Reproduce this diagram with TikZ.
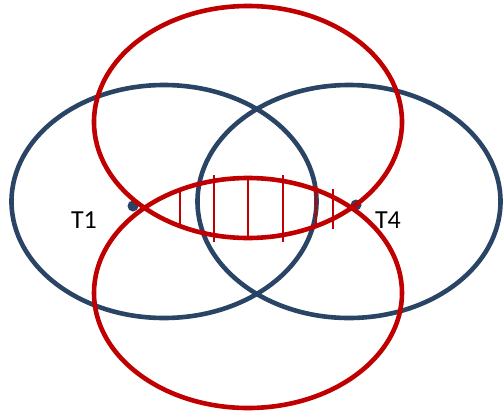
\documentclass[tikz,border=0pt]{standalone}
\usepackage{fontspec}
\setmainfont{Carlito}
\definecolor{navy}{HTML}{2A4466}
\definecolor{crim}{HTML}{C00000}
\begin{document}
\begin{tikzpicture}[x=1pt,y=-1pt,
  blueell/.style={draw=navy,line width=4.6pt},
  redell/.style={draw=crim,line width=4.6pt},
  hatch/.style={draw=crim,line width=1.5pt},
  lbl/.style={font=\fontsize{26}{30}\selectfont,text=black,inner sep=0pt}]
\useasboundingbox (0,0) rectangle (504,416);
% blue ellipses
\draw[blueell] (164,201.5) ellipse [x radius=152.5, y radius=116.5];
\draw[blueell] (349,201.5) ellipse [x radius=151.5, y radius=116.5];
% blue dots
\fill[navy] (133,206) circle (5.5);
\fill[navy] (356,205) circle (5.5);
% red ellipses
\draw[redell] (248,122) ellipse [x radius=154, y radius=116];
\draw[redell] (248,293) ellipse [x radius=154, y radius=115];
% hatching
\draw[hatch] (180,192) -- (180,227);
\draw[hatch] (214,175) -- (214,242);
\draw[hatch] (248,178) -- (248,240);
\draw[hatch] (283,175) -- (283,242);
\draw[hatch] (316,186) -- (316,226);
\draw[hatch] (333,189) -- (333,229);
% labels
\node[lbl] (t1) at (84,220) {T1};
\node[lbl] (t4) at (388,220) {T4};
\end{tikzpicture}
\end{document}
